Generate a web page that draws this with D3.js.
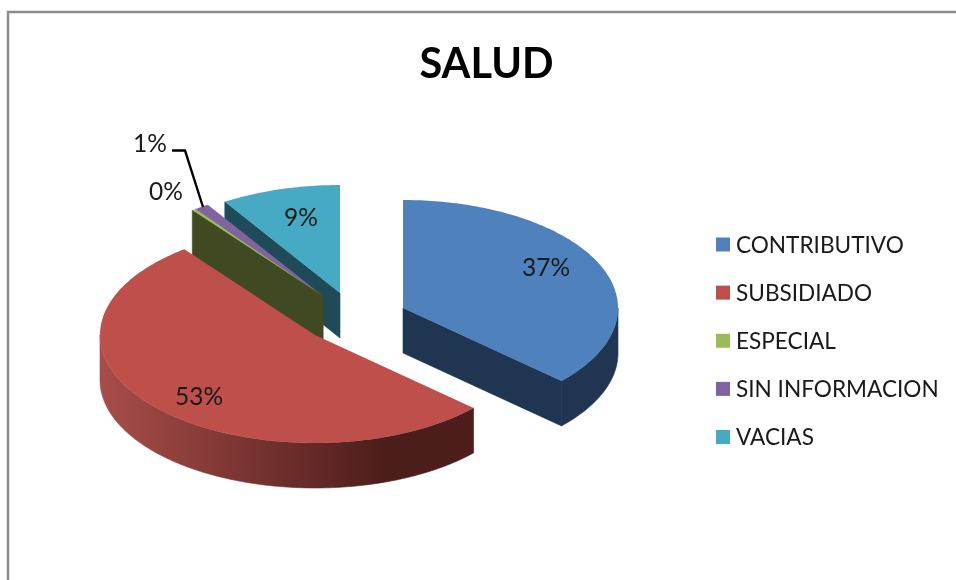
<!DOCTYPE html>
<html><head><meta charset="utf-8">
<script src="https://cdn.jsdelivr.net/npm/d3@7/dist/d3.min.js"></script>
<style>html,body{margin:0;padding:0;background:#fff}svg{display:block;filter:blur(0.55px)}</style>
</head><body><svg id="c" width="956" height="580"></svg>
<script>
const categories = ["CONTRIBUTIVO","SUBSIDIADO","ESPECIAL","SIN INFORMACION","VACIAS"];
const values = [36.8,52.8,0.3,1.1,9.0];
const percentLabels = ["37%","53%","0%","1%","9%"];
const topColors = ["#4f81bd","#be4f4b","#9bbb59","#8064a2","#46aac4"];
const wallColors = ["#1f3552","url(#redSide)","#404a22","#40325a","#1f4a58"];
const centers = [[403,308],[315,335],[323,296],[323,296],[340,293]];
const labelPos = [[546,267],[199,396],[166,191],[150,143],[301,217]];
const rx=215, ry=108, depth=45;

const svg=d3.select("#c");
const defs=svg.append("defs");
const g=defs.append("linearGradient").attr("id","redSide").attr("gradientUnits","userSpaceOnUse")
  .attr("x1",100).attr("x2",385).attr("y1",0).attr("y2",0);
g.append("stop").attr("offset",0).attr("stop-color","#a84d49");
g.append("stop").attr("offset",1).attr("stop-color","#4d1d1b");

// chart frame: only top and left edges are in the picture
svg.append("path").attr("d","M8,580V12H956").attr("fill","none").attr("stroke","#8c8c8c").attr("stroke-width",2.5);

svg.append("text").attr("x",486.5).attr("y",78).attr("text-anchor","middle")
  .attr("font-family","Lato").attr("font-weight",700).attr("font-size",41.5).attr("fill","#000").text("SALUD");

const arcs=d3.pie().sort(null).value(d=>d)(values);
const line=d3.line();
const pt=(c,a,dy=0)=>[c[0]+rx*Math.sin(a),c[1]-ry*Math.cos(a)+dy];
const samples=(a0,a1)=>{const n=Math.max(2,Math.ceil((a1-a0)*60));return d3.range(n+1).map(i=>a0+(a1-a0)*i/n);};
const order=[4,3,2,1,0];
const pieG=svg.append("g");
order.forEach(i=>{
  const d=arcs[i],c=centers[i],a0=d.startAngle,a1=d.endAngle,gr=pieG.append("g");
  const wall=a=>[c,pt(c,a),pt(c,a,depth),[c[0],c[1]+depth]];
  const side=p=>gr.append("path").attr("d",p).attr("fill",wallColors[i]).attr("stroke",wallColors[i]).attr("stroke-width",0.6);
  if(a0>Math.PI) side(line(wall(a0))+"Z");
  if(a1<Math.PI) side(line(wall(a1))+"Z");
  const s0=Math.max(a0,Math.PI/2),s1=Math.min(a1,Math.PI*1.5);
  if(s1>s0){
    const as=samples(s0,s1);
    side(line([...as.map(a=>pt(c,a)),...as.slice().reverse().map(a=>pt(c,a,depth))])+"Z");
  }
  gr.append("path").attr("d",line([c,...samples(a0,a1).map(a=>pt(c,a))])+"Z").attr("fill",topColors[i]);
});

// leader line for the 1% label
svg.append("path").attr("d",line([[172,150.5],[185,150.5],[203,207]])).attr("fill","none").attr("stroke","#000").attr("stroke-width",2.4);

svg.append("g").selectAll("text").data(percentLabels).join("text")
  .attr("x",(d,i)=>labelPos[i][0]).attr("y",(d,i)=>labelPos[i][1]).attr("dy","0.36em")
  .attr("text-anchor","middle").attr("font-family","Lato").attr("font-size",24.5).attr("fill","#1a1a1a").text(d=>d);

const ly=d3.scalePoint().domain(categories).range([244.5,437]);
const leg=svg.append("g").selectAll("g").data(categories).join("g").attr("transform",d=>`translate(716,${ly(d)})`);
leg.append("rect").attr("x",0).attr("y",-7).attr("width",14).attr("height",14).attr("fill",(d,i)=>topColors[i]);
leg.append("text").attr("x",20).attr("dy","0.36em").attr("font-family","Lato").attr("font-size",22.6).attr("fill","#1a1a1a").text(d=>d);
</script></body></html>
